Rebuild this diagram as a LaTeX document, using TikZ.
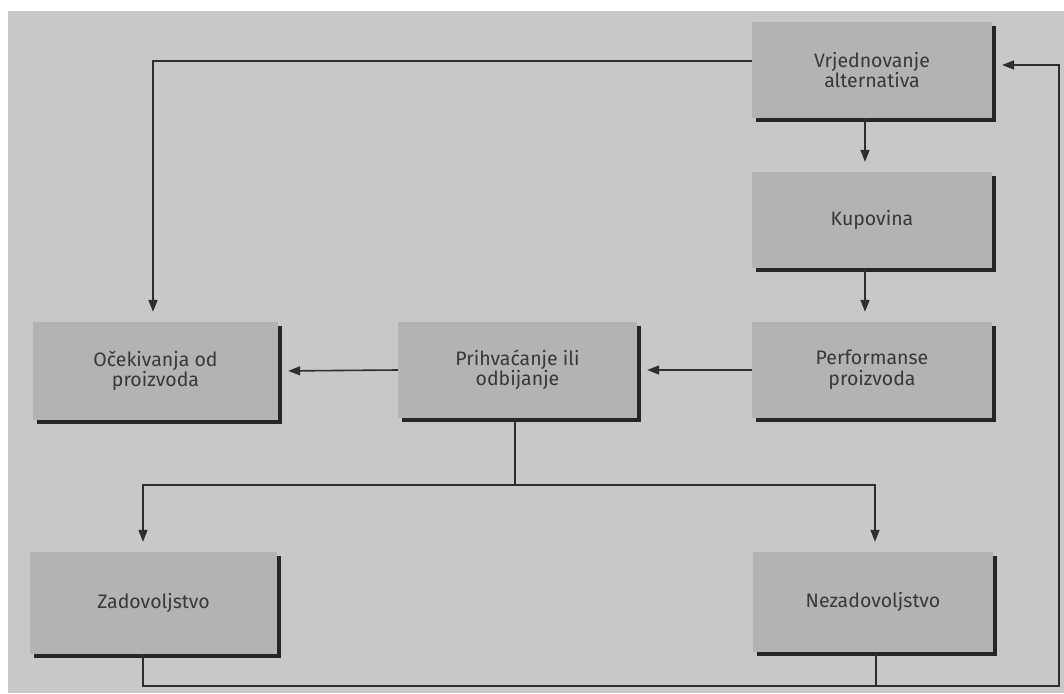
\documentclass[tikz,border=0pt]{standalone}
\usepackage{fontspec}
\setmainfont{Fira Sans}
\usetikzlibrary{arrows.meta,shadows}
\definecolor{pagebg}{HTML}{C8C8C8}
\definecolor{boxfill}{HTML}{B3B3B3}
\definecolor{inkline}{HTML}{2E2E2E}
\definecolor{inktext}{HTML}{383838}
\tikzset{
  stepbox/.style={draw=none, fill=boxfill, rectangle, align=center, inner sep=0pt,
    font=\fontsize{19.5}{20.5}\selectfont, text=inktext,
    drop shadow={shadow xshift=4pt, shadow yshift=-4pt, fill=black!85, opacity=1}},
  conn/.style={draw=inkline, line width=1.6pt},
  arr/.style={conn, -{Triangle[width=9pt,length=12pt]}, shorten >=10pt}
}
\begin{document}
\begin{tikzpicture}[x=1pt,y=-1pt]
\useasboundingbox (0,0) rectangle (1064,693);
\fill[white] (0,0) rectangle (1064,693);
\fill[pagebg] (8,11) rectangle (1064,693);
\node[stepbox, minimum width=240pt, minimum height=96pt] (V) at (872,70) {Vrjednovanje\\alternativa};
\node[stepbox, minimum width=240pt, minimum height=96pt] (K) at (872,220) {Kupovina};
\node[stepbox, minimum width=240pt, minimum height=96pt] (P) at (872,370) {Performanse\\proizvoda};
\node[stepbox, minimum width=239pt, minimum height=96pt] (A) at (517.5,370) {Prihvaćanje ili\\odbijanje};
\node[stepbox, minimum width=245pt, minimum height=98pt] (O) at (155.5,371) {Očekivanja od\\proizvoda};
\node[stepbox, minimum width=247pt, minimum height=102pt] (Z) at (153.5,603) {Zadovoljstvo};
\node[stepbox, minimum width=240pt, minimum height=100pt] (N) at (873,602) {Nezadovoljstvo};
\coordinate (vl) at (752,61);
\coordinate (vc) at (153,61);
\coordinate (split) at (515,485);
\coordinate (sl) at (143,485);
\coordinate (sr) at (875,485);
\coordinate (b1) at (143,686);
\coordinate (b2) at (876,686);
\coordinate (b3) at (1059,686);
\coordinate (b4) at (1059,65);
\coordinate (ve) at (992,65);
\draw[arr] (vl) -- (vc) -- (vc |- O.north);
\draw[arr] ([xshift=-7pt]V.south) -- ([xshift=-7pt]K.north);
\draw[arr] ([xshift=-7pt]K.south) -- ([xshift=-7pt]P.north);
\draw[arr] (P.west) -- (A.east);
\draw[arr] (A.west) -- (O.east);
\draw[conn] (A.south -| split) -- (split);
\draw[arr] (sr) -- (sl) -- (sl |- Z.north);
\draw[arr] (sl) -- (sr) -- (sr |- N.north);
\draw[conn] (N.south -| b2) -- (b2);
\draw[arr] (Z.south -| b1) -- (b1) -- (b3) -- (b4) -- (ve);
\end{tikzpicture}
\end{document}
